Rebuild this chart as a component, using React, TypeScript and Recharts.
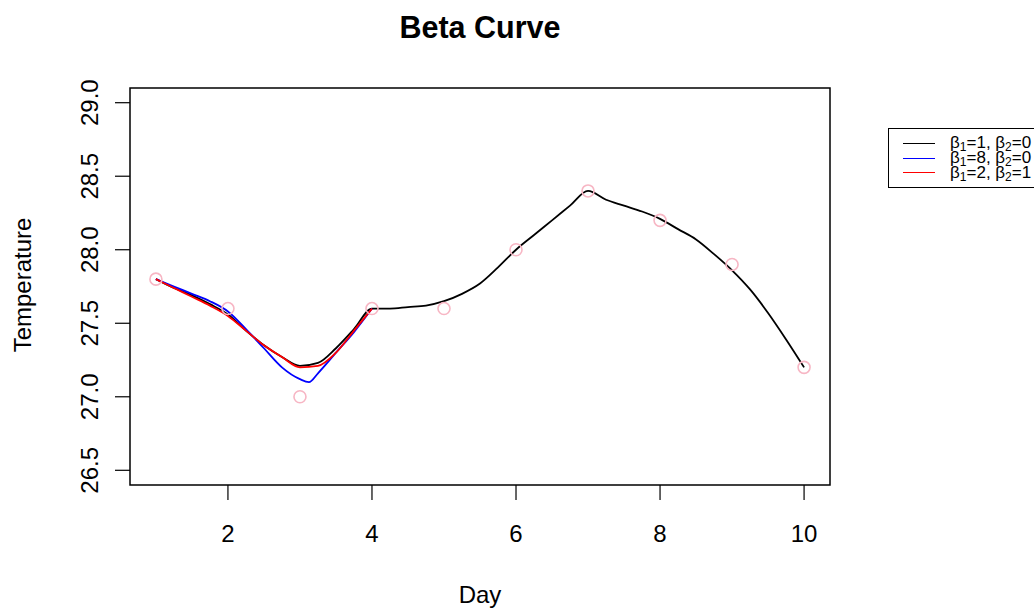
import {
  ComposedChart,
  Line,
  Scatter,
  XAxis,
  YAxis,
  ReferenceArea,
} from "recharts";

// observed temperatures
const days = [1, 2, 3, 4, 5, 6, 7, 8, 9, 10];
const temps = [27.8, 27.6, 27.0, 27.6, 27.6, 28.0, 28.4, 28.2, 27.9, 27.2];

// fitted curves
const curveX = [
  1, 1.25, 1.5, 1.75, 2, 2.25, 2.5, 2.75, 3, 3.25, 3.5, 3.75, 4, 4.25, 4.5,
  4.75, 5, 5.25, 5.5, 5.75, 6, 6.25, 6.5, 6.75, 7, 7.25, 7.5, 7.75, 8, 8.25,
  8.5, 8.75, 9, 9.25, 9.5, 9.75, 10,
];
const blackY = [
  27.8, 27.74, 27.69, 27.63, 27.56, 27.45, 27.35, 27.27, 27.21, 27.23, 27.33,
  27.46, 27.6, 27.6, 27.61, 27.62, 27.65, 27.7, 27.77, 27.88, 28.0, 28.1, 28.2,
  28.3, 28.4, 28.34, 28.3, 28.26, 28.21, 28.14, 28.07, 27.97, 27.86, 27.73,
  27.57, 27.39, 27.2,
];
const blueX = [1, 1.25, 1.5, 1.75, 2, 2.25, 2.5, 2.75, 3, 3.125, 3.25, 3.5, 3.75, 4];
const blueY = [
  27.8, 27.75, 27.7, 27.65, 27.58, 27.46, 27.33, 27.2, 27.12, 27.1, 27.16,
  27.3, 27.44, 27.6,
];
const redX = [1, 1.25, 1.5, 1.75, 2, 2.25, 2.5, 2.75, 3, 3.25, 3.5, 3.75, 4];
const redY = [
  27.8, 27.74, 27.68, 27.62, 27.55, 27.45, 27.35, 27.27, 27.2, 27.21, 27.3,
  27.45, 27.6,
];

const xTicks = [2, 4, 6, 8, 10];
const yTicks = [26.5, 27.0, 27.5, 28.0, 28.5, 29.0];

const legendColors = ["#000000", "#0000ff", "#ff0000"];
const legendBeta1 = [1, 8, 2];
const legendBeta2 = [0, 0, 1];

const obs = days.map((x, i) => ({ x, y: temps[i] }));
const black = curveX.map((x, i) => ({ x, y: blackY[i] }));
const blue = blueX.map((x, i) => ({ x, y: blueY[i] }));
const red = redX.map((x, i) => ({ x, y: redY[i] }));

const font = "'Liberation Sans', Arial, Helvetica, sans-serif";

const XTick = (props: any) => (
  <text
    x={props.x}
    y={533}
    textAnchor="middle"
    dominantBaseline="central"
    fontSize={24}
    fontFamily={font}
    fill="#000"
  >
    {props.payload.value}
  </text>
);

const YTick = (props: any) => (
  <text
    x={90}
    y={props.y}
    transform={`rotate(-90, 90, ${props.y})`}
    textAnchor="middle"
    dominantBaseline="central"
    fontSize={24}
    fontFamily={font}
    fill="#000"
  >
    {Number(props.payload.value).toFixed(1)}
  </text>
);

const Ring = (props: any) => (
  <circle
    cx={props.cx}
    cy={props.cy}
    r={6}
    fill="none"
    stroke="#f7b6c4"
    strokeWidth={1.6}
  />
);

const subStyle = { fontSize: 12, verticalAlign: "-3px", lineHeight: 0 };

export default function App() {
  return (
    <div
      style={{
        position: "absolute",
        left: 0,
        top: 0,
        width: 1034,
        height: 608,
        overflow: "hidden",
        background: "#fff",
        fontFamily: font,
      }}
    >
      <ComposedChart
        width={1034}
        height={608}
        margin={{ top: 88, right: 204, bottom: 0, left: 0 }}
      >
        <XAxis
          dataKey="x"
          type="number"
          domain={[0.64, 10.36]}
          ticks={xTicks}
          allowDataOverflow
          height={123}
          tickSize={15}
          axisLine={false}
          tickLine={{ stroke: "#000", strokeWidth: 1.2 }}
          tick={<XTick />}
        />
        <YAxis
          type="number"
          domain={[26.4, 29.1]}
          ticks={yTicks}
          allowDataOverflow
          width={130}
          tickSize={15}
          axisLine={false}
          tickLine={{ stroke: "#000", strokeWidth: 1.2 }}
          tick={<YTick />}
        />
        <ReferenceArea
          x1={0.64}
          x2={10.36}
          y1={26.4}
          y2={29.1}
          fill="none"
          stroke="#000"
          strokeWidth={1.5}
        />
        <Scatter data={obs} dataKey="y" shape={<Ring />} isAnimationActive={false} />
        <Line
          data={black}
          dataKey="y"
          type="monotone"
          stroke="#000"
          strokeWidth={1.8}
          dot={false}
          isAnimationActive={false}
        />
        <Line
          data={blue}
          dataKey="y"
          type="monotone"
          stroke="#0000ff"
          strokeWidth={1.8}
          dot={false}
          isAnimationActive={false}
        />
        <Line
          data={red}
          dataKey="y"
          type="monotone"
          stroke="#ff0000"
          strokeWidth={1.8}
          dot={false}
          isAnimationActive={false}
        />
      </ComposedChart>

      <div
        style={{
          position: "absolute",
          left: 130,
          width: 700,
          top: 27,
          transform: "translateY(-50%)",
          textAlign: "center",
          fontWeight: "bold",
          fontSize: 30.5,
        }}
      >
        Beta Curve
      </div>
      <div
        style={{
          position: "absolute",
          left: 130,
          width: 700,
          top: 595,
          transform: "translateY(-50%)",
          textAlign: "center",
          fontSize: 24,
        }}
      >
        Day
      </div>
      <div
        style={{
          position: "absolute",
          left: 23,
          top: 285,
          transform: "translate(-50%, -50%) rotate(-90deg)",
          fontSize: 24,
          whiteSpace: "nowrap",
        }}
      >
        Temperature
      </div>

      <div
        style={{
          position: "absolute",
          left: 888,
          top: 128,
          width: 200,
          height: 60,
          border: "1.5px solid #000",
          paddingTop: 7,
          boxSizing: "border-box",
        }}
      >
        {legendColors.map((c, i) => (
          <div
            key={i}
            style={{
              display: "flex",
              alignItems: "center",
              height: 14.8,
              fontSize: 17,
              whiteSpace: "nowrap",
            }}
          >
            <div
              style={{
                width: 32,
                marginLeft: 14,
                marginRight: 15,
                borderTop: `1.8px solid ${c}`,
              }}
            />
            <span style={{ lineHeight: "14px" }}>
              β<sub style={subStyle}>1</sub>={legendBeta1[i]}, β
              <sub style={subStyle}>2</sub>={legendBeta2[i]}
            </span>
          </div>
        ))}
      </div>
    </div>
  );
}
